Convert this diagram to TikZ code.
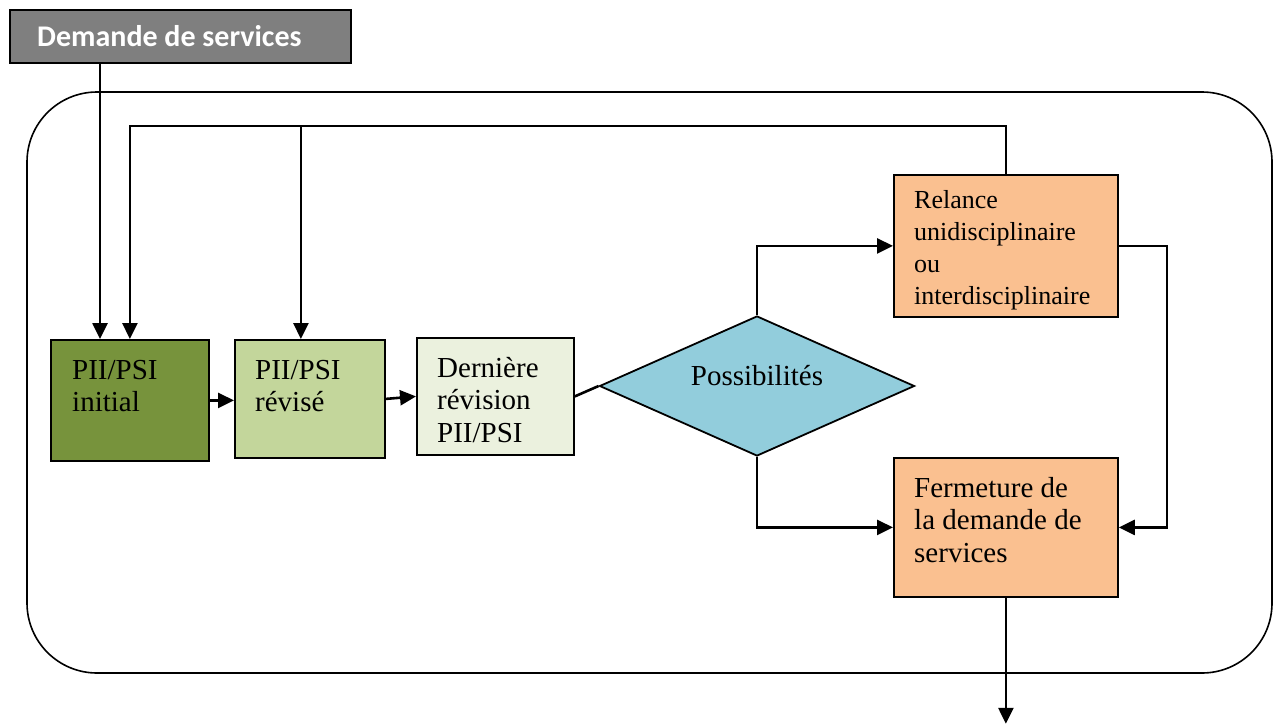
\documentclass[tikz,border=0pt]{standalone}
\usepackage{fontspec}
\setmainfont{Liberation Serif}
\newfontfamily\calib{Carlito}
\usetikzlibrary{arrows.meta,shapes.geometric}
\definecolor{initc}{HTML}{77933C}
\definecolor{revc}{HTML}{C3D69B}
\definecolor{derc}{HTML}{EBF1DE}
\definecolor{diamc}{HTML}{92CDDC}
\definecolor{orc}{HTML}{FAC090}
\definecolor{grayc}{HTML}{7F7F7F}
\tikzset{
  box/.style={draw, line width=1.8pt, inner sep=0pt, anchor=north west},
  txt/.style={inner sep=0pt, anchor=north west, align=left, font=\fontsize{29}{32.5}\selectfont},
  stxt/.style={inner sep=0pt, anchor=north west, align=left, font=\fontsize{26}{32}\selectfont},
  arr/.style={line width=2.6pt, -{Triangle[length=16pt,width=15pt]}},
  ln/.style={line width=2.6pt},
}
\begin{document}
\begin{tikzpicture}[x=1pt,y=-1pt]
\useasboundingbox (0,0) rectangle (1274,726);
% outer rounded frame
\draw[line width=1.6pt, rounded corners=70pt] (27,92) rectangle (1272,673);
% header
\node[box, fill=grayc, minimum width=341, minimum height=53] (dem) at (9,9) {};
\node[inner sep=0pt, anchor=base west, text=white, font=\calib\bfseries\fontsize{30}{34}\selectfont] (demt) at (37,46) {Demande de services};
% boxes
\node[box, fill=initc, minimum width=158, minimum height=121] (ini) at (50,339) {};
\node[txt] (init) at (72,360) {PII/PSI\\initial};
\node[box, fill=revc, minimum width=150, minimum height=118] (rev) at (234,339) {};
\node[txt] (revt) at (255,360) {PII/PSI\\révisé};
\node[box, fill=derc, minimum width=157, minimum height=117] (der) at (416,337) {};
\node[txt] (dert) at (437,357) {Dernière\\révision\\PII/PSI};
\node[draw, line width=1.8pt, fill=diamc, shape=diamond, inner sep=0pt, minimum width=315, minimum height=140] (poss) at (757,386) {};
\node[inner sep=0pt, anchor=base, font=\fontsize{29}{32.5}\selectfont] (posst) at (757,385) {Possibilités};
\node[box, fill=orc, minimum width=224, minimum height=142] (rel) at (893,174) {};
\node[stxt] (relt) at (914,190) {Relance\\unidisciplinaire\\ou\\interdisciplinaire};
\node[box, fill=orc, minimum width=224, minimum height=139] (fer) at (893,457) {};
\node[txt] (fert) at (914,477) {Fermeture de\\la demande de\\services};
% connectors
\coordinate (demin) at ([xshift=50pt]ini.north west);
\draw[arr] (dem.south -| demin) -- (demin);
\coordinate (topr) at ([yshift=48pt]rel.north);
\draw[arr] (rel.north) -- (topr) -| (ini.north);
\coordinate (revin) at ([xshift=-9pt]rev.north);
\draw[arr] (topr -| revin) -- (revin);
\draw[arr] (ini.east) -- (ini.east -| rev.west);
\draw[arr] (rev.east) -- (der.west);
\draw[ln] (der.east) -- (poss.west);
\draw[arr] (poss.north) |- (rel.west);
\draw[arr] (poss.south) |- (fer.west);
\coordinate (relr) at ([xshift=48pt]rel.east);
\draw[arr] (rel.east) -- (relr) |- (fer.east);
\coordinate (out) at ([yshift=-126pt]fer.south);
\draw[arr] (fer.south) -- (out);
\end{tikzpicture}
\end{document}
